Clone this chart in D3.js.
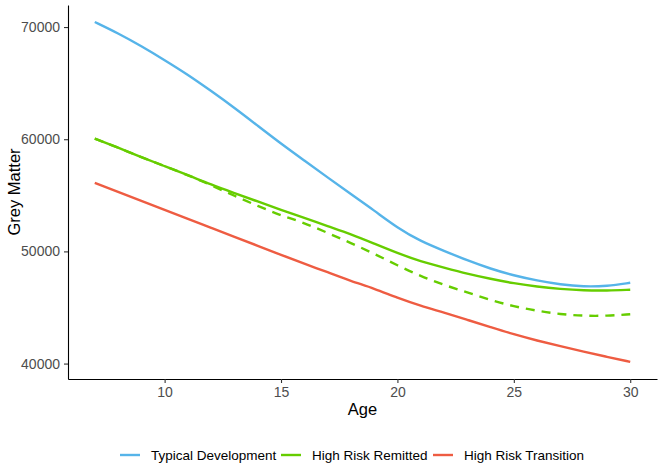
<html>
<head>
<meta charset="utf-8">
<script src="https://cdn.jsdelivr.net/npm/d3@7"></script>
<style>
    body { margin: 0; background: #fff; }
    text { font-family: "Liberation Sans", Arial, sans-serif; }
</style>
</head>
<body>
<script>

    // values
    var ages = [7, 8, 9, 10, 11, 12, 13, 14, 15, 16, 17, 18, 19, 20, 21, 22, 23, 24, 25, 26, 27, 28, 29, 30];
    var typical = [70450, 69450, 68300, 67050, 65750, 64300, 62800, 61200, 59600, 58100, 56600, 55100,
        53650, 52100, 50900, 50050, 49200, 48450, 47850, 47400, 47050, 46850, 46900, 47200];
    var remitted = [60050, 59250, 58400, 57600, 56800, 55950, 55200, 54450, 53700, 53000, 52250, 51550,
        50700, 49850, 49100, 48550, 48000, 47550, 47150, 46850, 46650, 46520, 46500, 46580];
    var remittedDashed = [60050, 59250, 58400, 57600, 56800, 55900, 54950, 54050, 53200, 52550, 51650, 50750,
        49800, 48750, 47800, 47000, 46350, 45650, 45100, 44700, 44400, 44250, 44250, 44400];
    var transition = [56100, 55300, 54500, 53700, 52900, 52100, 51300, 50500, 49700, 48900, 48150, 47350,
        46700, 45850, 45150, 44550, 43900, 43250, 42600, 42050, 41550, 41050, 40600, 40150];

    var xTicks = [10, 15, 20, 25, 30];
    var yTicks = [40000, 50000, 60000, 70000];

    var legendNames = ["Typical Development", "High Risk Remitted", "High Risk Transition"];
    var colors = ["#56B4E9", "#66CD00", "#EE5C42"];

    var width = 661, height = 468;
    var panel = {left: 68, right: 657, top: 5, bottom: 379};

    var svg = d3.select("body").append("svg")
        .attr("width", width)
        .attr("height", height);

    // ggplot style 5% expansion
    var xr = [7, 30], yr = [40140, 70450];
    var xPad = (xr[1] - xr[0]) * 0.05, yPad = (yr[1] - yr[0]) * 0.05;

    var x = d3.scaleLinear()
        .domain([xr[0] - xPad, xr[1] + xPad])
        .range([panel.left, panel.right]);

    var y = d3.scaleLinear()
        .domain([yr[0] - yPad, yr[1] + yPad])
        .range([panel.bottom, panel.top]);

    var line = d3.line()
        .x(function (d) { return x(d[0]); })
        .y(function (d) { return y(d[1]); })
        .curve(d3.curveBasis);

    var series = [
        {vals: typical, color: colors[0], dash: null},
        {vals: remitted, color: colors[1], dash: null},
        {vals: remittedDashed, color: colors[1], dash: "9,7"},
        {vals: transition, color: colors[2], dash: null}
    ];

    svg.append("g")
        .selectAll("path")
        .data(series)
        .enter()
        .append("path")
        .attr("fill", "none")
        .attr("stroke", function (d) { return d.color; })
        .attr("stroke-width", 2.4)
        .attr("stroke-dasharray", function (d) { return d.dash; })
        .attr("d", function (d) {
            return line(ages.map(function (a, i) { return [a, d.vals[i]]; }));
        });

    // axes
    var xAxis = svg.append("g")
        .attr("transform", "translate(0," + panel.bottom + ")")
        .call(d3.axisBottom(x).tickValues(xTicks).tickSize(4).tickPadding(4).tickSizeOuter(0));

    var yAxis = svg.append("g")
        .attr("transform", "translate(" + panel.left + ",0)")
        .call(d3.axisLeft(y).tickValues(yTicks).tickSize(4).tickPadding(4).tickFormat(d3.format("d")).tickSizeOuter(0));

    [xAxis, yAxis].forEach(function (ax) {
        ax.select(".domain").attr("stroke", "#000").attr("stroke-width", 1.1);
        ax.selectAll(".tick line").attr("stroke", "#333").attr("stroke-width", 1.1);
        ax.selectAll(".tick text")
            .attr("fill", "#4D4D4D")
            .attr("font-size", "14px")
            .attr("font-family", "Liberation Sans, Arial, sans-serif");
    });

    // axis titles
    svg.append("text")
        .attr("x", (panel.left + panel.right) / 2)
        .attr("y", 415)
        .attr("text-anchor", "middle")
        .attr("font-size", "16.5px")
        .attr("fill", "#000")
        .text("Age");

    svg.append("text")
        .attr("transform", "translate(20," + ((panel.top + panel.bottom) / 2) + ") rotate(-90)")
        .attr("text-anchor", "middle")
        .attr("font-size", "16.5px")
        .attr("fill", "#000")
        .text("Grey Matter");

    // legend
    var legendX = [120, 281, 433];
    var legend = svg.append("g")
        .selectAll("g")
        .data(legendNames)
        .enter()
        .append("g")
        .attr("transform", function (d, i) { return "translate(" + legendX[i] + ",455)"; });

    legend.append("line")
        .attr("x1", 0).attr("x2", 20)
        .attr("stroke", function (d, i) { return colors[i]; })
        .attr("stroke-width", 2.4);

    legend.append("text")
        .attr("x", 31)
        .attr("y", 5)
        .attr("font-size", "13.5px")
        .attr("fill", "#000")
        .text(function (d) { return d; });

</script>
</body>
</html>
